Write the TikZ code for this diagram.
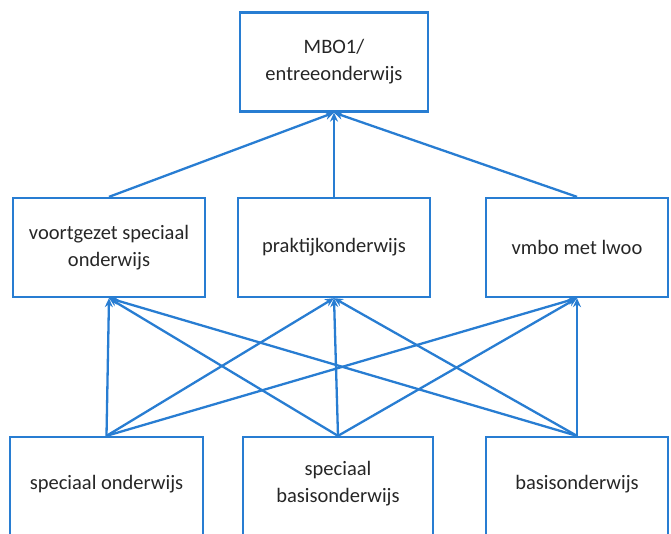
\documentclass[tikz,border=0pt]{standalone}
\usepackage{fontspec}
\setmainfont{Carlito}
\usetikzlibrary{arrows.meta}
\definecolor{schoolblue}{RGB}{40,125,210}
\tikzset {>={Stealth[length=9pt,width=8pt]}}
\tikzset{
  level/.style={draw=schoolblue, line width=2.3pt, align=center, text=black!85,
    minimum width=190pt, minimum height=99pt, inner sep=0pt,
    font=\fontsize{20.5}{27}\selectfont},
  low/.style={level, minimum height=110pt, text depth=20pt},
  link/.style={->, draw=schoolblue, line width=2.3pt}
}

\begin{document}
\begin{tikzpicture}[x=1pt,y=-1pt]
\useasboundingbox (0,0) rectangle (671,534);

\node[level, minimum width=188pt] (mbo) at (334,62) {MBO1/\\entreeonderwijs};

\node[level, minimum width=192pt] (vso) at (109,247.5) {voortgezet speciaal\\onderwijs};
\node[level, minimum width=192pt] (pro) at (334,247.5) {praktijkonderwijs};
\node[level, minimum width=182pt] (vmbo) at (577,247.5) {vmbo met lwoo};

\node[low, minimum width=193pt] (so) at (106.5,492) {speciaal onderwijs};
\node[low, minimum width=190pt] (sbo) at (338,492) {speciaal\\basisonderwijs};
\node[low, minimum width=182pt] (bo) at (577,492) {basisonderwijs};

% naar MBO1
\draw[link] (vso.north) -- (mbo.south);
\draw[link] (pro.north) -- (mbo.south);
\draw[link] (vmbo.north) -- (mbo.south);

% van onder naar midden
\foreach \from in {so,sbo,bo}
  \foreach \to in {vso,pro,vmbo}
    \draw[link] (\from.north) -- (\to.south);
\end{tikzpicture}
\end{document}
